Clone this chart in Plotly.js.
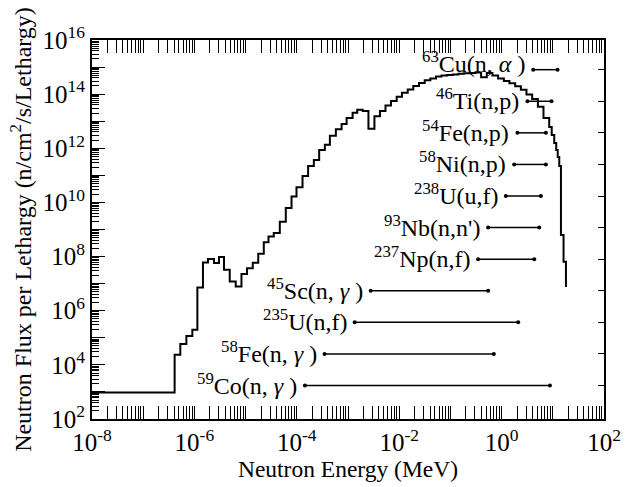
<!DOCTYPE html>
<html>
<head>
<meta charset="utf-8">
<script src="https://cdn.plot.ly/plotly-3.0.1.min.js"></script>
<style>html,body{margin:0;padding:0;background:#fff;}#chart{width:638px;height:487px;}</style>
</head>
<body>
<div id="chart"></div>
<script>
// Lower edges of the energy groups (MeV); last entry is the upper end of the spectrum
const energyEdges = [1e-8, 4.11e-7, 5.31e-7, 6.97e-7, 9.12e-7, 1.143e-6, 1.469e-6, 1.84e-6, 2.416e-6, 3.02e-6,
  3.785e-6, 4.898e-6, 6.41e-6, 8.30e-6, 1.067e-5, 1.380e-5, 1.766e-5, 2.265e-5, 2.80e-5, 3.548e-5,
  4.656e-5, 6.096e-5, 7.89e-5, 9.86e-5, 1.294e-4, 1.663e-4, 2.153e-4, 2.735e-4, 3.532e-4, 4.426e-4,
  5.794e-4, 7.499e-4, 9.397e-4, 1.230e-3, 1.514e-3, 1.932e-3, 2.506e-3, 3.281e-3, 4.207e-3, 5.395e-3,
  6.902e-3, 8.93e-3, 1.132e-2, 1.466e-2, 1.884e-2, 2.438e-2, 3.148e-2, 4.055e-2, 5.236e-2, 6.714e-2,
  8.610e-2, 0.1112, 0.1432, 0.1849, 0.2393, 0.3076, 0.3981, 0.5140, 0.6622, 0.8551,
  1.107, 1.422, 1.841, 2.377, 3.062, 3.954, 5.117, 6.577, 8.511, 9.528,
  10.67, 11.67, 12.47, 13.37, 14.42, 16.22, 18.07];
// Neutron flux per lethargy in each group (n/cm2/s/lethargy)
const fluxPerLethargy = [955, 2.34e4, 5.89e4, 1.17e5, 2.0e5, 7.24e6, 6.03e7, 8.13e7, 5.75e7, 9.55e7,
  3.24e7, 1.20e7, 7.76e6, 2.29e7, 3.72e7, 5.89e7, 1.26e8, 3.39e8, 5.50e8, 7.41e8,
  1.95e9, 6.17e9, 1.66e10, 3.63e10, 9.55e10, 2.24e11, 3.72e11, 8.71e11, 1.35e12, 2.88e12,
  5.01e12, 7.94e12, 1.32e13, 2.04e13, 2.63e13, 2.40e13, 5.25e12, 1.51e13, 2.40e13, 3.80e13,
  5.62e13, 7.94e13, 1.12e14, 1.48e14, 2.00e14, 2.57e14, 3.24e14, 3.80e14, 4.47e14, 4.90e14,
  5.13e14, 5.37e14, 5.62e14, 5.89e14, 6.03e14, 6.31e14, 4.17e14, 6.03e14, 4.90e14, 3.80e14,
  3.09e14, 2.51e14, 1.95e14, 1.45e14, 9.77e13, 6.61e13, 3.39e13, 1.32e13, 6.17e12, 3.09e12,
  1.58e12, 8.71e11, 4.79e11, 2.24e11, 6.31e8, 6.46e7, 7.59e6];

// Dosimetry reactions and their sensitive energy ranges (MeV), top to bottom
const reactionLabels = [
  '<sup>63</sup>Cu(n, <i>α</i> )', '<sup>46</sup>Ti(n,p)', '<sup>54</sup>Fe(n,p)', '<sup>58</sup>Ni(n,p)',
  '<sup>238</sup>U(u,f)', "<sup>93</sup>Nb(n,n')", '<sup>237</sup>Np(n,f)', '<sup>45</sup>Sc(n, <i>γ</i> )',
  '<sup>235</sup>U(n,f)', '<sup>58</sup>Fe(n, <i>γ</i> )', '<sup>59</sup>Co(n, <i>γ</i> )'];
const rangeMin = [4.14, 3.20, 2.04, 1.76, 1.21, 0.546, 0.348, 2.77e-3, 1.35e-3, 3.48e-4, 1.44e-4];
const rangeMax = [12.4, 9.44, 7.33, 7.33, 5.86, 5.42, 4.34, 0.546, 2.11, 0.705, 8.79];
const rowIndex = [11, 10, 9, 8, 7, 6, 5, 4, 3, 2, 1];

// Axis tick labels
const xTickVals = [1e-8, 1e-6, 1e-4, 1e-2, 1, 100];
const xTickText = ['10<sup>-8</sup>', '10<sup>-6</sup>', '10<sup>-4</sup>', '10<sup>-2</sup>', '10<sup>0</sup>', '10<sup>2</sup>'];
const yTickVals = [1e2, 1e4, 1e6, 1e8, 1e10, 1e12, 1e14, 1e16];
const yTickText = ['10<sup>2</sup>', '10<sup>4</sup>', '10<sup>6</sup>', '10<sup>8</sup>', '10<sup>10</sup>', '10<sup>12</sup>', '10<sup>14</sup>', '10<sup>16</sup>'];

function decadeTicks(lo, hi, labelVals, labelText) {
  const vals = [], text = [], minor = [];
  for (let e = lo; e <= hi; e++) {
    const v = Math.pow(10, e);
    vals.push(v);
    const k = labelVals.findIndex(t => Math.abs(Math.log10(t) - e) < 1e-9);
    text.push(k >= 0 ? labelText[k] : '');
    if (e < hi) for (let m = 2; m <= 9; m++) minor.push(m * v);
  }
  return {vals, text, minor};
}
const xt = decadeTicks(-8, 2, xTickVals, xTickText);
const yt = decadeTicks(2, 16, yTickVals, yTickText);

const FONT = '"Liberation Serif"';

const traces = [{
  x: energyEdges, y: fluxPerLethargy, type: 'scatter', mode: 'lines',
  line: {shape: 'hv', color: '#000', width: 2}, hoverinfo: 'skip'
}];
reactionLabels.forEach((lab, i) => {
  traces.push({
    x: [rangeMin[i], rangeMax[i]], y: [rowIndex[i], rowIndex[i]], yaxis: 'y2',
    type: 'scatter', mode: 'lines+markers',
    line: {color: '#000', width: 1.5}, marker: {color: '#000', size: 4},
    hoverinfo: 'skip'
  });
});

const annotations = reactionLabels.map((lab, i) => ({
  x: Math.log10(rangeMin[i]), y: rowIndex[i], xref: 'x', yref: 'y2',
  text: lab, showarrow: false, xanchor: 'right', yanchor: 'middle',
  xshift: -6, yshift: i === 0 ? 8 : 2, font: {family: FONT, size: 24, color: '#000'}
}));

const layout = {
  width: 638, height: 487,
  margin: {l: 92, r: 34, t: 40, b: 68, pad: 0},
  paper_bgcolor: '#fff', plot_bgcolor: '#fff',
  showlegend: false,
  font: {family: FONT, color: '#000', size: 24},
  xaxis: {
    type: 'log', range: [-8, 2], tickmode: 'array', tickvals: xt.vals, ticktext: xt.text,
    ticks: 'inside', ticklen: 13, tickwidth: 1, tickcolor: '#000',
    showline: true, linewidth: 2, linecolor: '#000', mirror: 'allticks',
    showgrid: false, zeroline: false,
    tickfont: {family: FONT, size: 25},
    minor: {tickmode: 'array', tickvals: xt.minor, ticks: 'inside', ticklen: 7, tickwidth: 1, tickcolor: '#000', showgrid: false},
    title: {text: 'Neutron Energy (MeV)', font: {family: FONT, size: 23.5}, standoff: 3}
  },
  yaxis: {
    type: 'log', range: [2, 16], tickmode: 'array', tickvals: yt.vals, ticktext: yt.text,
    ticks: 'inside', ticklen: 13, tickwidth: 1, tickcolor: '#000',
    showline: true, linewidth: 2, linecolor: '#000', mirror: true,
    showgrid: false, zeroline: false,
    tickfont: {family: FONT, size: 25},
    minor: {tickmode: 'array', tickvals: yt.minor, ticks: 'inside', ticklen: 7, tickwidth: 1, tickcolor: '#000', showgrid: false},
    title: {text: 'Neutron Flux per Lethargy (n/cm<sup>2</sup>/s/Lethargy)', font: {family: FONT, size: 24}, standoff: 4}
  },
  yaxis2: {
    overlaying: 'y', side: 'right', range: [-0.06, 11.94], tickmode: 'array', tickvals: rowIndex,
    ticks: 'inside', ticklen: 6, tickwidth: 1, tickcolor: '#000', showticklabels: false,
    showline: true, linewidth: 2, linecolor: '#000', showgrid: false, zeroline: false
  },
  annotations: annotations
};

Plotly.newPlot('chart', traces, layout, {displayModeBar: false, staticPlot: true});
</script>
</body>
</html>
